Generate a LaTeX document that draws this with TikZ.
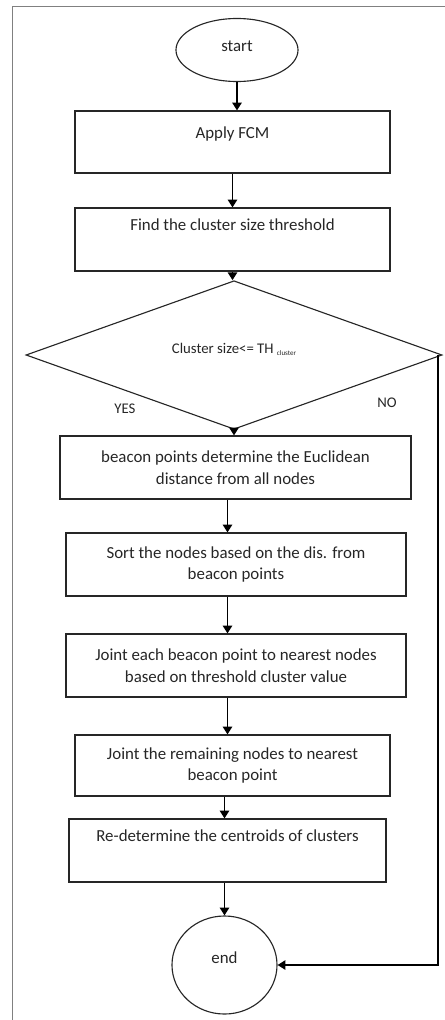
\documentclass[tikz,border=0pt]{standalone}
\usepackage{fontspec}
\setmainfont{Carlito}
\usetikzlibrary{positioning}
\usetikzlibrary{shapes.geometric, arrows.meta}
\tikzstyle{process} = [rectangle, draw=black!85, line width=0.8pt, text=black!85, align=center, inner sep=0pt, font=\fontsize{12}{15.6}\selectfont]
\tikzstyle{terminal} = [ellipse, draw=black!85, line width=0.8pt, text=black!85, inner sep=0pt, font=\fontsize{12}{15.6}\selectfont]
\tikzstyle{decision} = [diamond, draw=black!85, line width=0.8pt, text=black!85, inner sep=0pt, font=\fontsize{10.5}{12}\selectfont]
\tikzstyle{answer} = [text=black!85, font=\fontsize{10.5}{12}\selectfont]
\tikzstyle{arrow} = [line width=1.4pt,->,>={Triangle[length=5.5pt,width=6.5pt]}]

\begin{document}
\begin{tikzpicture}[x=0.025cm,y=-0.025cm]
      \useasboundingbox (0,0) rectangle (445,1020);
      %\draw[help lines] (0,0) grid (445,1020);
      \draw[black!50, line width=0.7pt] (12,6) rectangle (480,1060);
      %%%%%%%%%%%%%%%%%%%%%%%%%%%%%%%%%%%%%%%
      \draw (237,50) node (start) [terminal, minimum width=3.05cm, minimum height=1.575cm, text depth=6pt] {start};
      \draw (232.5,142) node (fcm) [process, minimum width=7.875cm, minimum height=1.55cm, text depth=13pt] {Apply FCM};
      \draw (232.5,239.5) node (thr) [process, minimum width=7.875cm, minimum height=1.575cm, text depth=21pt] {Find the cluster size threshold};
      \draw (234,355) node (dec) [decision, minimum width=10.4cm, minimum height=2.45cm, text depth=10pt] {Cluster size<= TH \raisebox{-0.4ex}{\tiny cluster}};
      \draw (125,409) node (yes) [answer] {YES};
      \draw (387,403) node (no) [answer] {NO};
      \draw (235.5,467.5) node (beacon) [process, minimum width=8.775cm, minimum height=1.575cm] {beacon points determine the Euclidean\\distance from all nodes};
      \draw (236,564.5) node (sort) [process, minimum width=8.5cm, minimum height=1.575cm] {Sort the nodes based on the dis. from\\beacon points};
      \draw (236,665.5) node (jeach) [process, minimum width=8.5cm, minimum height=1.575cm] {Joint each beacon point to nearest nodes\\based on threshold cluster value};
      \draw (232.5,765.5) node (jrest) [process, minimum width=7.875cm, minimum height=1.525cm] {Joint the remaining nodes to nearest\\beacon point};
      \draw (227.5,850.5) node (redet) [process, minimum width=7.925cm, minimum height=1.575cm, text depth=21pt] {Re-determine the centroids of clusters};
      \draw (224.5,965) node (end) [terminal, minimum width=2.625cm, minimum height=2.45cm, text depth=11pt] {end};
      %%%%%%%%%%%%%%%%%%%%%%%%%%%%%%%%%%%%%%%
      \draw[arrow] (start) -- (start |- fcm.north);
      \draw[arrow] (fcm) -- (fcm |- thr.north);
      \draw[arrow] (thr) -- (thr |- dec.north);
      \draw[arrow] (dec) -- (dec |- beacon.north);
      \draw[arrow] (beacon.south -| redet) -- (redet |- sort.north);
      \draw[arrow] (sort.south -| redet) -- (redet |- jeach.north);
      \draw[arrow] (jeach.south -| redet) -- (redet |- jrest.north);
      \draw[arrow] (jrest.south -| end) -- (end |- redet.north);
      \draw[arrow] (redet.south -| end) -- (end);
      \draw[arrow] (dec.east) ++(-5,0) |- (end.east);
\end{tikzpicture}
\end{document}
